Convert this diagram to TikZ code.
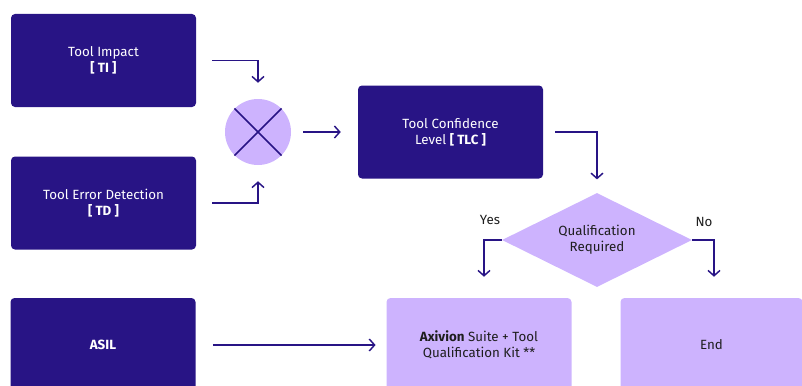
\documentclass[tikz,border=0pt]{standalone}
\usepackage{fontspec}
\setmainfont{Fira Sans}
\usetikzlibrary{shapes.geometric,arrows.meta}
\definecolor{darkpurple}{HTML}{281485}
\definecolor{lightpurple}{HTML}{CDB3FE}
\definecolor{textgray}{HTML}{1E1E1E}

\tikzset{
  darkbox/.style={rectangle, rounded corners=3pt, fill=darkpurple, text=white,
    minimum width=185*0.75pt, minimum height=93*0.75pt, align=center,
    font=\fontsize{10}{12}\selectfont},
  lightbox/.style={darkbox, fill=lightpurple, text=textgray},
  flow/.style={draw=darkpurple, line width=1.1pt,
    -{Straight Barb[length=4pt,width=9pt]}},
  answer/.style={text=textgray, font=\fontsize{10}{12}\selectfont},
}

\begin{document}
\begin{tikzpicture}[x=0.75pt,y=-0.75pt]
  % page
  \useasboundingbox (0,0) rectangle (802,385);
  \clip (0,0) rectangle (802,385);

  % inputs
  \node[darkbox] (ti) at (103.5,60.5) {Tool Impact\\\textbf{[ TI ]}};
  \node[darkbox] (td) at (103.5,203) {Tool Error Detection\\\textbf{[ TD ]}};
  \node[darkbox, minimum height=94*0.75pt] (asil) at (103,345) {\textbf{ASIL}};

  % combination
  \node[circle, fill=lightpurple, minimum size=66*0.75pt, inner sep=0pt] (mult) at (258,132) {};
  \draw[darkpurple, line width=1.1pt]
    (mult.north west) -- (mult.south east)
    (mult.north east) -- (mult.south west);

  % tool confidence level
  \node[darkbox] (tlc) at (450.5,132) {Tool Confidence\\Level \textbf{[ TLC ]}};

  % decision
  \node[diamond, fill=lightpurple, text=textgray, align=center, inner sep=0pt,
        minimum width=190*0.75pt, minimum height=94*0.75pt, aspect=2,
        font=\fontsize{10}{12}\selectfont] (qual) at (597,240) {Qualification\\Required};
  \node[answer] (yes) at (490,220) {Yes};
  \node[answer] (no) at (704,222) {No};

  % results
  \node[lightbox, minimum height=94*0.75pt] (kit) at (479,345)
    {\textbf{Axivion} Suite + Tool\\Qualification Kit **};
  \node[lightbox, minimum width=182*0.75pt, minimum height=94*0.75pt] (stop) at (711.5,345) {End};

  % connectors
  \draw[flow, shorten <=12pt, shorten >=12pt] (ti.east) -| (mult.north);
  \draw[flow, shorten <=12pt, shorten >=12pt] (td.east) -| (mult.south);
  \draw[flow, shorten <=9pt, shorten >=12.75pt] (mult.east) -- (tlc.west);
  \draw[flow, shorten <=9pt, shorten >=10pt] (tlc.east) -| (qual.north);
  \draw[flow, shorten >=15.75pt] (qual.west) -| ([xshift=5*0.75pt]kit.north);
  \draw[flow, shorten >=15.75pt] (qual.east) -| ([xshift=2.5*0.75pt]stop.north);
  \draw[flow, shorten <=12.75pt, shorten >=8pt] (asil.east) -- (kit.west);
\end{tikzpicture}
\end{document}
